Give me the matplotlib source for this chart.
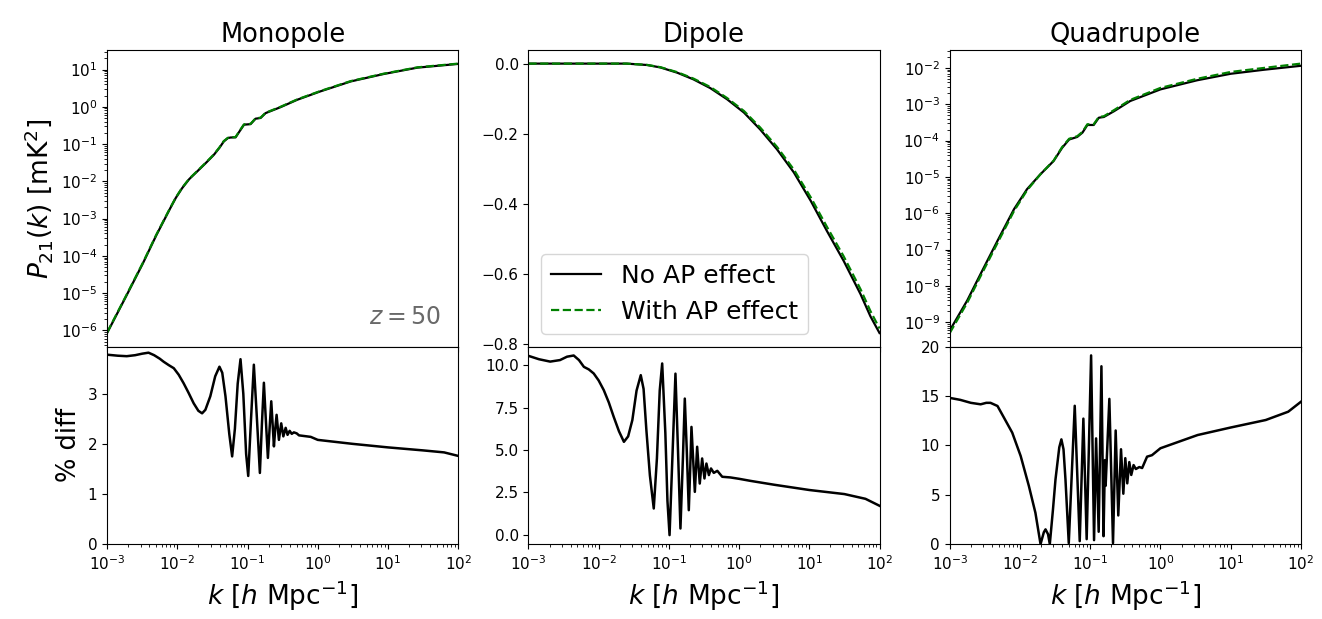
"""
AP effect on the 21cm power spectrum multipoles at z=50.
Top: P_l(k) with/without AP, bottom: percentage difference.
"""
import matplotlib
matplotlib.use('Agg')
import matplotlib.pyplot as plt
import numpy as np
from matplotlib.ticker import LogLocator, NullFormatter, MultipleLocator

# --- top row: spectra (log10 k, and log10 P for the log panels) ---
logk_mono = [-3.0, -2.72, -2.49, -2.30, -2.10, -2.02, -1.93, -1.83, -1.72, -1.60, -1.48, -1.40,
             -1.338, -1.28, -1.243, -1.17, -1.10, -1.05, -0.957, -0.886, -0.814,
             -0.743, -0.53, -0.29, 0.04, 0.47, 0.94, 1.42, 2.0]
logP_mono = [-6.07, -5.05, -4.20, -3.45, -2.72, -2.44, -2.18, -1.94, -1.74, -1.52, -1.29, -1.10,
             -0.93, -0.84, -0.825, -0.82, -0.62, -0.48, -0.466, -0.32, -0.30,
             -0.17, -0.01, 0.19, 0.415, 0.68, 0.88, 1.05, 1.15]
logP_mono_ap = [-6.055, -5.035, -4.185, -3.436, -2.708, -2.43, -2.168, -1.93, -1.731, -1.51, -1.28, -1.09,
                -0.92, -0.833, -0.818, -0.812, -0.61, -0.472, -0.458, -0.312, -0.292,
                -0.161, -0.001, 0.199, 0.424, 0.689, 0.888, 1.058, 1.158]

logk_dip = [-3.0, -2.0, -1.6, -1.31, -1.12, -0.88, -0.65, -0.41, -0.17, 0.07, 0.30,
            0.54, 0.78, 1.02, 1.25, 1.49, 1.73, 1.87, 2.0]
P_dip = [0.0, 0.0, 0.0, -0.004, -0.011, -0.026, -0.045, -0.070, -0.102, -0.14, -0.188,
         -0.245, -0.311, -0.392, -0.478, -0.564, -0.659, -0.722, -0.770]
P_dip_ap = [0.0, 0.0, 0.0, -0.0037, -0.0102, -0.0245, -0.0428, -0.0668, -0.0985, -0.1355, -0.1825,
            -0.238, -0.303, -0.382, -0.466, -0.551, -0.645, -0.707, -0.757]

logk_quad = [-3.0, -2.75, -2.56, -2.32, -2.085, -1.90, -1.71, -1.52, -1.40, -1.30,
             -1.185, -1.11, -1.04, -0.95, -0.877, -0.806, -0.66, -0.43, 0.0, 0.52,
             1.0, 1.47, 2.0]
logP_quad = [-9.23, -8.40, -7.67, -6.76, -5.89, -5.34, -4.93, -4.56, -4.20, -3.97,
             -3.90, -3.78, -3.57, -3.57, -3.37, -3.35, -3.19, -2.91, -2.59, -2.34,
             -2.16, -2.05, -1.94]
logP_quad_ap = [-9.30, -8.46, -7.73, -6.82, -5.94, -5.37, -4.93, -4.55, -4.18, -3.95,
                -3.88, -3.76, -3.55, -3.55, -3.35, -3.33, -3.16, -2.88, -2.55, -2.30,
                -2.11, -2.00, -1.88]

# --- bottom row: % difference ---
logk_dmono = [-3.0, -2.85, -2.72, -2.6, -2.5, -2.41, -2.33, -2.25, -2.195, -2.12, -2.05,
              -1.98, -1.91, -1.84, -1.767, -1.70, -1.647, -1.60, -1.53, -1.46, -1.40,
              -1.36, -1.314, -1.26, -1.219, -1.18, -1.14, -1.10, -1.06, -1.02, -0.99,
              -0.95, -0.91, -0.87, -0.824, -0.795, -0.767, -0.74, -0.71, -0.686, -0.662,
              -0.643, -0.624, -0.605, -0.586, -0.553, -0.52, -0.49, -0.457, -0.43, -0.40,
              -0.37, -0.34, -0.30, -0.267, -0.1, 0.0, 0.186, 0.5, 1.0, 1.5, 1.8, 2.0]
diff_mono = [3.78, 3.76, 3.75, 3.77, 3.80, 3.82, 3.77, 3.70, 3.64, 3.57, 3.51,
             3.38, 3.21, 3.02, 2.81, 2.66, 2.61, 2.68, 2.95, 3.35, 3.54,
             3.42, 2.95, 2.20, 1.75, 2.30, 3.20, 3.69, 3.00, 1.80, 1.36,
             2.50, 3.58, 2.60, 1.42, 2.40, 3.22, 2.50, 1.72, 2.30, 2.85,
             2.40, 1.95, 2.30, 2.58, 2.08, 2.41, 2.15, 2.32, 2.18, 2.26,
             2.20, 2.23, 2.21, 2.17, 2.14, 2.08, 2.05, 2.00, 1.93, 1.87, 1.83, 1.76]

logk_ddip = [-3.0, -2.85, -2.69, -2.55, -2.45, -2.355, -2.28, -2.21, -2.14, -2.07, -2.0,
             -1.927, -1.855, -1.785, -1.71, -1.64, -1.58, -1.52, -1.46, -1.40, -1.36,
             -1.32, -1.27, -1.215, -1.17, -1.13, -1.095, -1.05, -1.02, -0.99, -0.95,
             -0.906, -0.87, -0.835, -0.80, -0.773, -0.745, -0.716, -0.695, -0.678, -0.63,
             -0.597, -0.56, -0.526, -0.493, -0.465, -0.43, -0.40, -0.36, -0.31, -0.24,
             -0.123, 0.0, 0.16, 0.5, 1.0, 1.5, 1.8, 2.0]
diff_dip = [10.55, 10.35, 10.21, 10.30, 10.50, 10.57, 10.30, 9.90, 9.75, 9.51, 9.10,
            8.53, 7.80, 6.95, 6.10, 5.48, 5.80, 6.76, 8.50, 9.41, 8.60,
            6.17, 3.50, 1.55, 4.50, 8.50, 10.10, 6.00, 2.00, -0.02, 4.50,
            9.50, 5.00, 0.37, 4.50, 8.03, 5.00, 1.45, 4.00, 6.36, 2.53,
            5.19, 3.02, 4.50, 3.32, 4.20, 3.52, 3.91, 3.65, 3.77, 3.42,
            3.38, 3.30, 3.18, 2.95, 2.64, 2.40, 2.12, 1.71]

logk_dquad = [-3.0, -2.85, -2.70, -2.56, -2.48, -2.42, -2.32, -2.228, -2.11, -1.99,
              -1.873, -1.78, -1.707, -1.66, -1.636, -1.60, -1.575, -1.53, -1.494, -1.44,
              -1.41, -1.38, -1.352, -1.305, -1.22, -1.149, -1.097, -1.05, -0.987, -0.945,
              -0.916, -0.879, -0.84, -0.81, -0.79, -0.78, -0.727, -0.675, -0.637, -0.60,
              -0.561, -0.528, -0.50, -0.472, -0.443, -0.415, -0.382, -0.35, -0.30, -0.26,
              -0.19, -0.12, 0.0, 0.53, 1.0, 1.5, 1.82, 2.0]
diff_quad = [14.8, 14.6, 14.3, 14.15, 14.3, 14.3, 13.98, 12.8, 11.28, 8.92,
             5.88, 3.17, 0.0, 1.2, 1.49, 1.0, 0.0, 3.5, 6.55, 9.8,
             10.6, 9.6, 6.55, 0.1, 14.0, 0.3, 12.7, 0.5, 19.1, 0.4,
             10.7, 1.25, 18.0, 0.8, 8.5, 5.9, 14.7, 0.1, 11.5, 2.9,
             9.6, 5.1, 8.7, 6.15, 8.3, 7.0, 8.0, 7.6, 7.8, 7.7,
             8.85, 9.0, 9.7, 11.04, 11.8, 12.56, 13.4, 14.4]

titles = ['Monopole', 'Dipole', 'Quadrupole']

fig = plt.figure(figsize=(13.22, 6.19), dpi=100)
gs = fig.add_gridspec(2, 3, height_ratios=[3, 2], hspace=0, wspace=0.2,
                      left=0.081, right=0.984, top=0.919, bottom=0.121)

tops = [(logk_mono, 10 ** np.array(logP_mono), 10 ** np.array(logP_mono_ap), True),
        (logk_dip, np.array(P_dip), np.array(P_dip_ap), False),
        (logk_quad, 10 ** np.array(logP_quad), 10 ** np.array(logP_quad_ap), True)]
bottoms = [(logk_dmono, diff_mono), (logk_ddip, diff_dip), (logk_dquad, diff_quad)]

for i in range(3):
    ax = fig.add_subplot(gs[0, i])
    axb = fig.add_subplot(gs[1, i], sharex=ax)

    lk, p, p_ap, is_log = tops[i]
    k = 10 ** np.array(lk)
    ax.plot(k, p, color='black', lw=1.6, label='No AP effect')
    ax.plot(k, p_ap, color='green', ls='--', lw=1.6, label='With AP effect')
    ax.set_xscale('log')
    if is_log:
        ax.set_yscale('log')
        ax.yaxis.set_major_locator(LogLocator(base=10, numticks=20))
        ax.yaxis.set_minor_locator(LogLocator(base=10, subs=np.arange(2, 10), numticks=20))
        ax.yaxis.set_minor_formatter(NullFormatter())
    ax.set_title(titles[i], fontsize=18.5)
    ax.tick_params(labelbottom=False, labelsize=11)

    lkb, d = bottoms[i]
    axb.plot(10 ** np.array(lkb), d, color='black', lw=1.8)
    axb.set_xlim(1e-3, 1e2)
    axb.xaxis.set_major_locator(LogLocator(base=10, numticks=10))
    axb.set_xlabel(r'$k$ [$h$ Mpc$^{-1}$]', fontsize=19)
    axb.tick_params(labelsize=11)

    if i == 0:
        ax.set_ylabel(r'$P_{21}(k)$ [mK$^2$]', fontsize=19)
        axb.set_ylabel('% diff', fontsize=18.5)
        axb.set_ylim(bottom=0)
        ax.text(0.95, 0.06, r'$z = 50$', transform=ax.transAxes, ha='right',
                va='bottom', fontsize=17, color='dimgray')
    if i == 1:
        ax.yaxis.set_major_locator(MultipleLocator(0.2))
        axb.yaxis.set_major_locator(MultipleLocator(2.5))
        ax.legend(loc='lower left', fontsize=18)
    if i == 2:
        axb.set_ylim(0, 20)

fig.savefig('out.png', dpi=100)
